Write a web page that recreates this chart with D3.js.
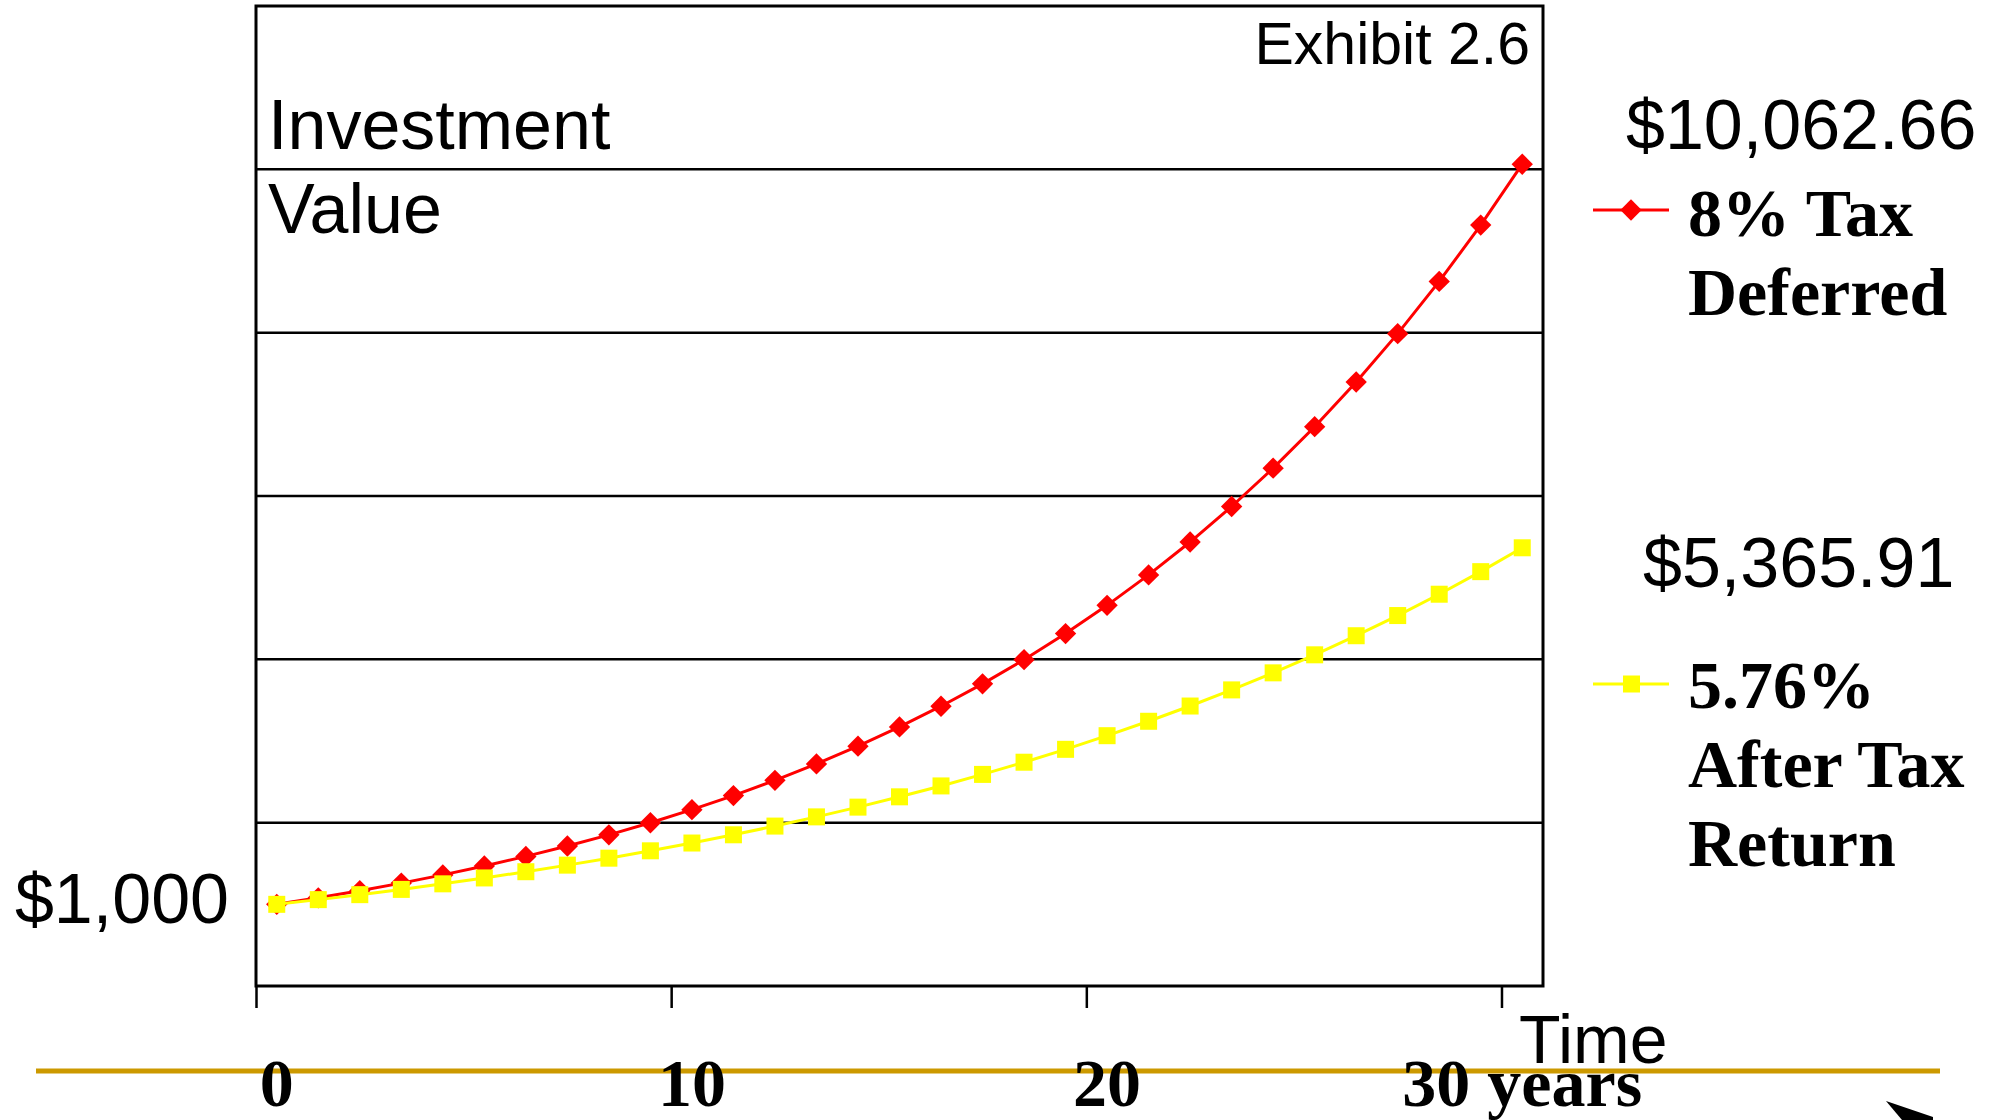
<!DOCTYPE html>
<html>
<head>
<meta charset="utf-8">
<script src="https://cdn.jsdelivr.net/npm/d3@7"></script>
<style>
	body { margin: 0; background: white; }
	.sans { font-family: "Liberation Sans", Arial, sans-serif; }
	.serif { font-family: "Liberation Serif", "Times New Roman", serif; font-weight: bold; }
</style>
</head>
<body>
<div id="chart-area"></div>
<script>
// Data
var years = d3.range(0, 31);

var taxDeferred = [1000, 1080, 1166.40, 1259.71, 1360.49, 1469.33, 1586.87, 1713.82, 1850.93, 1999.00,
	2158.92, 2331.64, 2518.17, 2719.62, 2937.19, 3172.17, 3425.94, 3700.02, 3996.02, 4315.70,
	4660.96, 5033.83, 5436.54, 5871.46, 6341.18, 6848.48, 7396.35, 7988.06, 8627.11, 9317.27, 10062.66];

var afterTax = [1000, 1057.60, 1118.52, 1182.94, 1251.08, 1323.14, 1399.36, 1479.96, 1565.21, 1655.36,
	1750.71, 1851.55, 1958.20, 2070.99, 2190.28, 2316.44, 2449.87, 2590.98, 2740.22, 2898.06,
	3064.99, 3241.53, 3428.24, 3625.71, 3834.55, 4055.42, 4289.01, 4536.06, 4797.34, 5073.67, 5365.91];

var xTickValues = [0, 10, 20, 30];
var xTickLabels = ["0", "10", "20", "30 years"];
var gridValues = [2000, 4000, 6000, 8000, 10000];

var seriesNames = [["8% Tax", "Deferred"], ["5.76%", "After Tax", "Return"]];
var endLabels = ["$10,062.66", "$5,365.91"];

// SVG drawing area
var width = 1993, height = 1120;
var plot = {left: 256, right: 1543, top: 6, bottom: 986};

var svg = d3.select("#chart-area").append("svg")
	.attr("width", width)
	.attr("height", height);

svg.append("rect").attr("width", width).attr("height", height).attr("fill", "white");

var xScale = d3.scaleLinear().domain([0, 31]).range([plot.left, plot.right]);
var yScale = d3.scaleLinear().domain([0, 12000]).range([plot.bottom, plot.top]);

// gridlines
svg.append("g").selectAll("line")
	.data(gridValues)
	.enter().append("line")
	.attr("x1", plot.left).attr("x2", plot.right)
	.attr("y1", d => yScale(d)).attr("y2", d => yScale(d))
	.attr("stroke", "black").attr("stroke-width", 2.5);

// frame
svg.append("rect")
	.attr("x", plot.left).attr("y", plot.top)
	.attr("width", plot.right - plot.left).attr("height", plot.bottom - plot.top)
	.attr("fill", "none").attr("stroke", "black").attr("stroke-width", 3);

// x axis ticks
var xAxis = d3.axisBottom(xScale).tickValues(xTickValues).tickSize(22).tickFormat("");
var xAxisGroup = svg.append("g")
	.attr("transform", `translate(0, ${plot.bottom})`)
	.call(xAxis);
xAxisGroup.select(".domain").remove();
xAxisGroup.selectAll(".tick line").attr("stroke", "black").attr("stroke-width", 2.5);

// gold time line
svg.append("line")
	.attr("x1", 36).attr("x2", 1940)
	.attr("y1", 1071).attr("y2", 1071)
	.attr("stroke", "#cc9900").attr("stroke-width", 5);

// x labels, centred on the year categories
svg.append("g").selectAll("text")
	.data(xTickValues)
	.enter().append("text")
	.attr("class", "serif")
	.attr("x", d => xScale(d + 0.5))
	.attr("y", 1106)
	.attr("text-anchor", "middle")
	.style("font-size", "68px")
	.text((d, i) => xTickLabels[i]);

var lineGenerator = d3.line()
	.x((d, i) => xScale(years[i] + 0.5))
	.y(d => yScale(d));

// red series
svg.append("path")
	.datum(taxDeferred)
	.attr("d", lineGenerator)
	.attr("fill", "none").attr("stroke", "#ff0000").attr("stroke-width", 3);

var diamond = d3.symbol().type(d3.symbolDiamond2).size(290);
svg.append("g").selectAll("path")
	.data(taxDeferred)
	.enter().append("path")
	.attr("d", diamond)
	.attr("transform", (d, i) => `translate(${xScale(years[i] + 0.5)}, ${yScale(d)})`)
	.attr("fill", "#ff0000");

// yellow series
svg.append("path")
	.datum(afterTax)
	.attr("d", lineGenerator)
	.attr("fill", "none").attr("stroke", "#ffff00").attr("stroke-width", 3);

svg.append("g").selectAll("rect")
	.data(afterTax)
	.enter().append("rect")
	.attr("x", (d, i) => xScale(years[i] + 0.5) - 8.5)
	.attr("y", d => yScale(d) - 8.5)
	.attr("width", 17).attr("height", 17)
	.attr("fill", "#ffff00");

// texts
svg.append("text").attr("class", "sans")
	.attr("x", 1530).attr("y", 64)
	.attr("text-anchor", "end")
	.style("font-size", "59px")
	.text("Exhibit 2.6");

svg.append("text").attr("class", "sans")
	.attr("x", 268).attr("y", 149)
	.style("font-size", "70px")
	.text("Investment");

svg.append("text").attr("class", "sans")
	.attr("x", 268).attr("y", 233)
	.style("font-size", "70px")
	.text("Value");

svg.append("text").attr("class", "sans")
	.attr("x", 229).attr("y", yScale(1000) + 19)
	.attr("text-anchor", "end")
	.style("font-size", "70px")
	.text("$1,000");

svg.append("text").attr("class", "sans")
	.attr("x", 1519).attr("y", 1063)
	.style("font-size", "68px")
	.text("Time");

// end values
var endY = [149, 587];
var endX = [1626, 1643];
svg.append("g").selectAll("text")
	.data(endLabels)
	.enter().append("text")
	.attr("class", "sans")
	.attr("x", (d, i) => endX[i])
	.attr("y", (d, i) => endY[i])
	.style("font-size", "70px")
	.text(d => d);

// legend
var legendY = [210, 684];
var legendBase = [236, 708];
var colors = ["#ff0000", "#ffff00"];

seriesNames.forEach(function(lines, s) {
	var g = svg.append("g");
	g.append("line")
		.attr("x1", 1593).attr("x2", 1669)
		.attr("y1", legendY[s]).attr("y2", legendY[s])
		.attr("stroke", colors[s]).attr("stroke-width", 3);
	if (s == 0) {
		g.append("path").attr("d", diamond)
			.attr("transform", `translate(1631, ${legendY[s]})`)
			.attr("fill", colors[s]);
	} else {
		g.append("rect")
			.attr("x", 1623).attr("y", legendY[s] - 8.5)
			.attr("width", 17).attr("height", 17)
			.attr("fill", colors[s]);
	}
	g.selectAll("text")
		.data(lines)
		.enter().append("text")
		.attr("class", "serif")
		.attr("x", 1688)
		.attr("y", (d, i) => legendBase[s] + i * 79)
		.style("font-size", "68px")
		.text(d => d);
});

// pointer arrow at the bottom edge
svg.append("path")
	.attr("d", "M1886,1101 L1933,1117 L1933,1120 L1902,1120 Z")
	.attr("fill", "black");
</script>
</body>
</html>
